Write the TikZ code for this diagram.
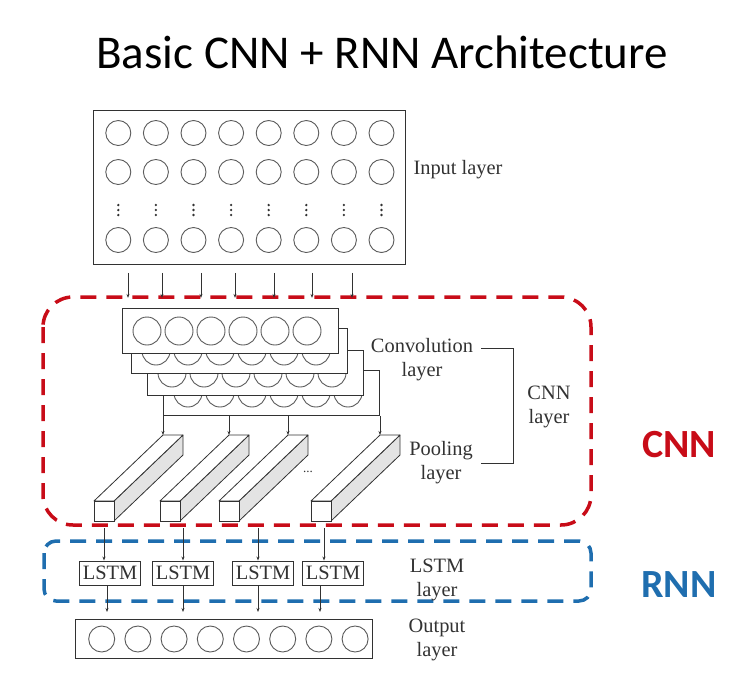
\documentclass[tikz,border=0pt]{standalone}
\usepackage{fontspec}
\setmainfont{Liberation Serif}
\newfontfamily\calibri{Carlito}
\usetikzlibrary{arrows.meta}
\definecolor{cnnred}{RGB}{200,12,24}
\definecolor{rnnblue}{RGB}{31,110,175}
\definecolor{ink}{RGB}{50,50,50}

\begin{document}
\begin{tikzpicture}[x=1pt, y=-1pt,
  lbl/.style={text=ink, font=\fontsize{20.4}{24}\selectfont, align=center, inner sep=0pt},
  arr/.style={draw=ink, line width=0.8pt, -{Stealth[length=4pt,width=3pt]}},
  cell/.style={draw=ink!80, line width=0.9pt},
  box/.style={draw=ink, line width=0.9pt, fill=white, inner sep=0pt, anchor=north west},
  ]
\useasboundingbox (0,0) rectangle (747,678);


% Title
\path 
(382,52) node (title) {\calibri\fontsize{47}{56}\selectfont Basic CNN + RNN Architecture};


% CNN part (red dashed)
\draw[cnnred, line width=3.5pt, dash pattern=on 16pt off 10pt, rounded corners=30pt] (43,297) rectangle (591,525);

% RNN part (blue dashed)
\draw[rnnblue, line width=3.5pt, dash pattern=on 16pt off 10pt, rounded corners=12pt] (44,541) rectangle (591,601);


% Input layer
\node[box, minimum width=312pt, minimum height=154pt] (inbox) at (93,110) {};
\foreach \k in {0,...,7} {
  \foreach \yy in {23,62,130}
    \draw[cell] ([shift={(25.3+37.6*\k,\yy)}]inbox.north west) circle[radius=12.5pt];
  \foreach \yy in {95,100,105}
    \fill[ink] ([shift={(25.3+37.6*\k,\yy)}]inbox.north west) circle[radius=1.3pt];
}
\path 
(458,170) node[lbl] (inlbl) {Input layer};

% arrows down from input
\foreach \x in {35,69,108,142,181,219,259}
  \draw[arr] ([xshift=\x pt, yshift=-8pt]inbox.south west) -- ++(0,25);


% Convolution layer, back to front
\foreach \n/\x/\y in {4/163/370, 3/147/350, 2/131/328, 1/122/308} {
  \node[box, minimum width=216pt, minimum height=45pt] (conv\n) at (\x,\y) {};
  \foreach \k in {0,...,5}
    \draw[cell] ([shift={(25+32*\k,23)}]conv\n.north west) circle[radius=14pt];
}
\path 
(422,360) node[lbl] (convlbl) {Convolution\\layer};


% Pooling layer
\foreach \i/\fx in {1/94,2/160,3/219,4/311} {
  \filldraw[fill=gray!22, draw=ink, line width=0.8pt, line join=round] (\fx+20,501) -- ++(69,-66) -- ++(0,20) -- (\fx+20,521) -- cycle;
  \filldraw[fill=white, draw=ink, line width=0.8pt, line join=round] (\fx,501) -- ++(69,-66) -- ++(20,0) -- (\fx+20,501) -- cycle;
  \filldraw[fill=white, draw=ink, line width=0.8pt] (\fx,501) rectangle ++(20,20);
  \coordinate (cube\i) at (\fx+69,435);
  \draw[arr] (cube\i |- conv4.south) -- (cube\i);
}
\path 
(308,472) node[text=ink, font=\fontsize{13}{13}\selectfont] (more) {...};
\path 
(441,463) node[lbl] (poollbl) {Pooling\\layer};

% CNN layer bracket
\draw[ink, line width=0.9pt] ([xshift=8pt,yshift=12pt]convlbl.east) -- ++(32,0) |- ([xshift=8pt]poollbl.east);
\path 
(549,407) node[lbl] (cnnlbl) {CNN\\layer};

\path 
(679,445) node[text=cnnred, font=\calibri\bfseries\fontsize{40}{48}\selectfont] (cnn) {CNN};


% LSTM layer
\foreach \i/\x in {1/110,2/183,3/263,4/333}
  \path (\x,573) node[lbl, draw=ink, line width=0.9pt, inner xsep=3.5pt, minimum height=24pt] (lstm\i) {LSTM};

\foreach \i/\xa/\xb in {1/104/107,2/183/183,3/258/258,4/324/320} {
  \coordinate (lin\i) at (\xa,528);
  \draw[arr] (lin\i) -- (lin\i |- lstm\i.north);
  \coordinate (lout\i) at (\xb,612);
  \draw[arr] (lout\i |- lstm\i.south) -- (lout\i);
}
\path 
(437,580) node[lbl] (lstmlbl) {LSTM\\layer};

\path 
(679,585) node[text=rnnblue, font=\calibri\bfseries\fontsize{40}{48}\selectfont] (rnn) {RNN};


% Output layer
\node[box, minimum width=297pt, minimum height=39pt] (outbox) at (75,619) {};
\foreach \k in {0,...,7}
  \draw[cell] ([shift={(26.7+36.2*\k,20)}]outbox.north west) circle[radius=13pt];
\path 
(437,640) node[lbl] (outlbl) {Output\\layer};


\end{tikzpicture}
\end{document}
